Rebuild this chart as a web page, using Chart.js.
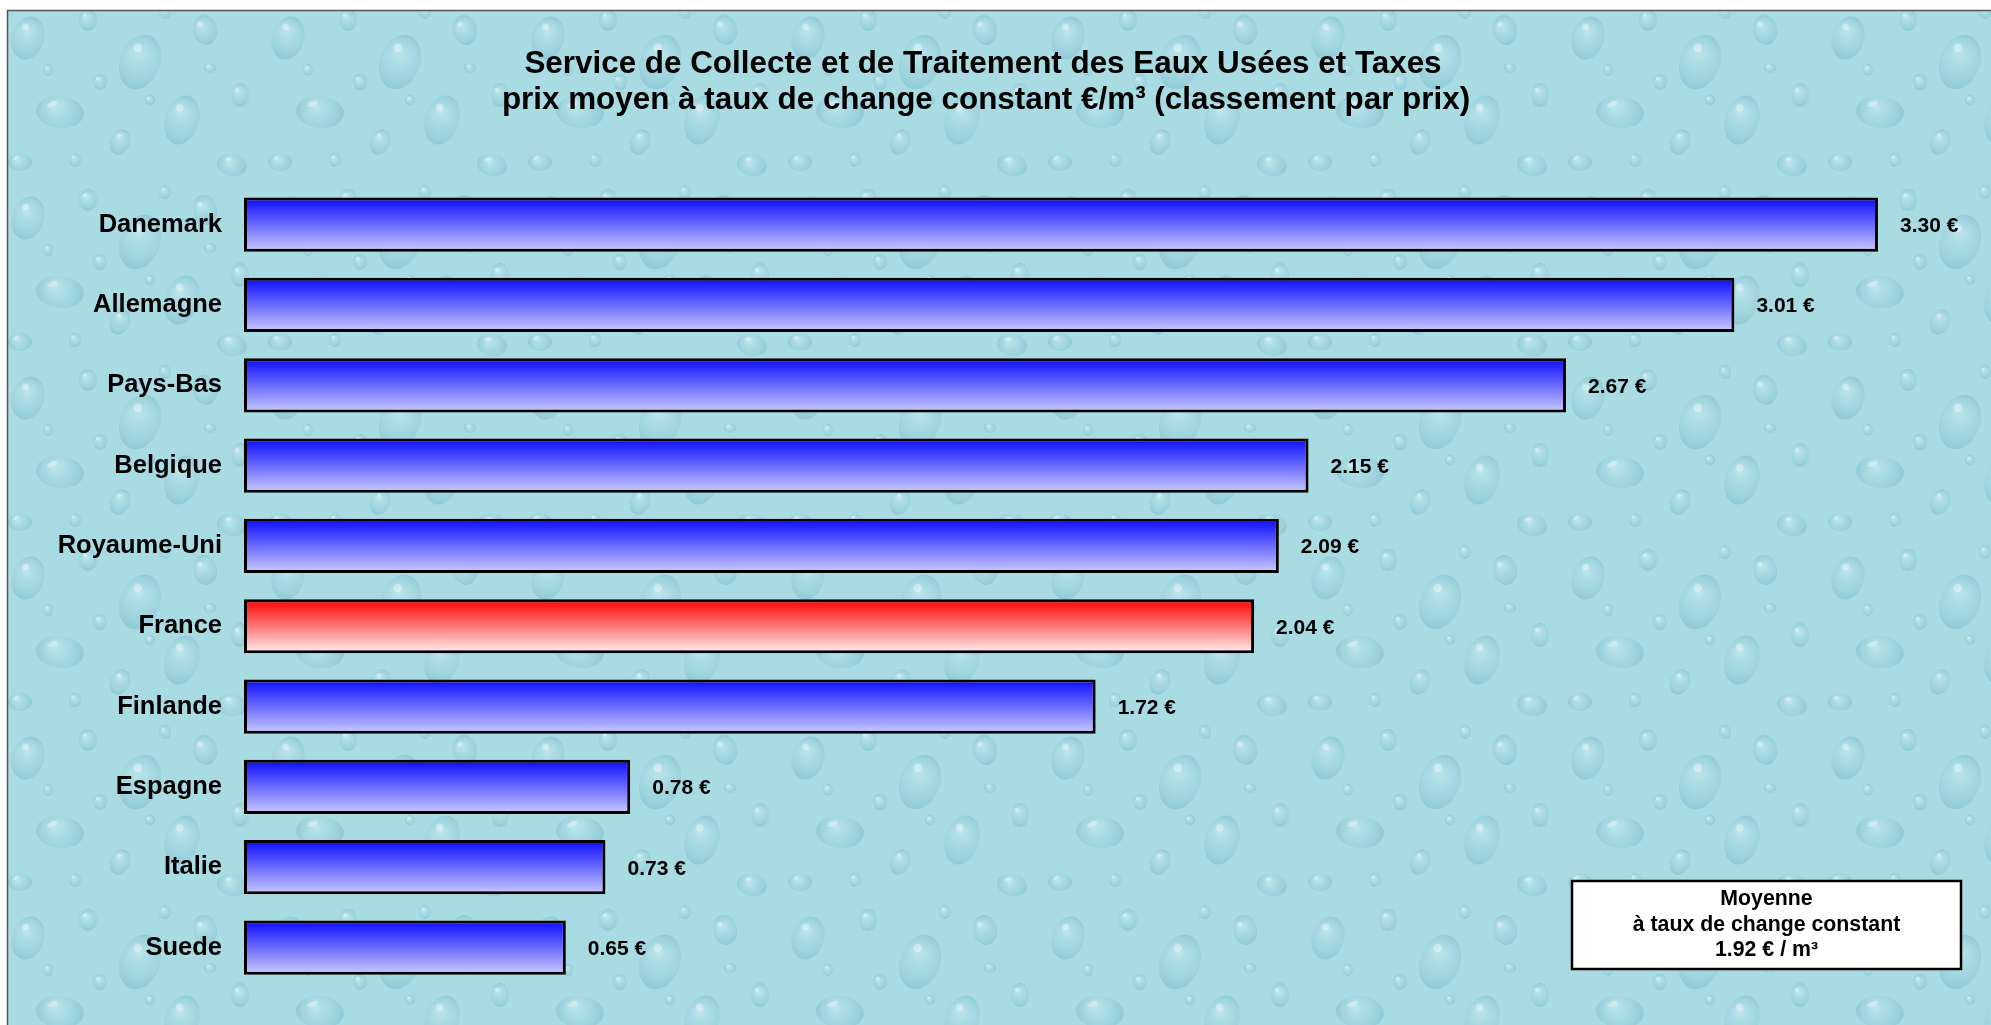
<!DOCTYPE html>
<html>
<head>
<meta charset="utf-8">
<script src="https://cdn.jsdelivr.net/npm/chart.js@4.4.1/dist/chart.umd.min.js"></script>
<style>
  html, body { margin: 0; padding: 0; background: #fff; }
  #wrap { width: 1991px; height: 1025px; }
</style>
</head>
<body>
<div id="wrap"><canvas id="chart" width="1991" height="1025"></canvas></div>
<script>
const countries = ["Danemark", "Allemagne", "Pays-Bas", "Belgique", "Royaume-Uni", "France", "Finlande", "Espagne", "Italie", "Suede"];
const prices = [3.30, 3.01, 2.67, 2.15, 2.09, 2.04, 1.72, 0.78, 0.73, 0.65];
const highlight = "France";
const averagePrice = 1.92;
const titleLines = [
    "Service de Collecte et de Traitement des Eaux Usées et Taxes",
    "prix moyen à taux de change constant €/m³ (classement par prix)"
];
const boxLines = ["Moyenne", "à taux de change constant", averagePrice.toFixed(2) + " € / m³"];

const FONT = "'Liberation Sans', Arial, sans-serif";

// hand placed drops for the water texture tile: x, y, rx, ry, tilt
const drops = [
    [28, 38, 16, 22, 0.3], [88, 20, 9, 11, 0], [140, 62, 20, 28, 0.35], [205, 30, 12, 15, -0.2],
    [60, 112, 24, 16, 0.1], [120, 142, 10, 13, 0.4], [182, 120, 17, 25, 0.3], [240, 95, 9, 12, 0],
    [20, 162, 12, 9, 0], [232, 165, 15, 11, 0.2], [100, 82, 7, 8, 0], [165, 12, 6, 7, 0],
    [48, 70, 5, 6, 0], [210, 68, 6, 5, 0], [75, 160, 6, 7, 0], [150, 100, 5, 5, 0]
];

function makeTexture(ctx) {
    const tile = document.createElement("canvas");
    tile.width = 260; tile.height = 180;
    const t = tile.getContext("2d");
    t.fillStyle = "#a9dbe3";
    t.fillRect(0, 0, 260, 180);
    drops.forEach(([x, y, rx, ry, a]) => {
        t.save();
        t.translate(x, y);
        t.rotate(a);
        const r = Math.max(rx, ry);
        const g = t.createRadialGradient(-rx * 0.25, -ry * 0.35, 1, 0, 0, r);
        g.addColorStop(0, "rgba(215,243,247,0.45)");
        g.addColorStop(0.65, "rgba(140,200,212,0.30)");
        g.addColorStop(1, "rgba(95,170,188,0.35)");
        t.fillStyle = g;
        t.beginPath();
        t.ellipse(0, 0, rx, ry, 0, 0, Math.PI * 2);
        t.fill();
        t.fillStyle = "rgba(255,255,255,0.35)";
        t.beginPath();
        t.ellipse(-rx * 0.35, -ry * 0.45, rx * 0.22, ry * 0.15, -0.5, 0, Math.PI * 2);
        t.fill();
        t.restore();
    });
    return ctx.createPattern(tile, "repeat");
}

const backdrop = {
    id: "backdrop",
    beforeDraw(chart) {
        const ctx = chart.ctx;
        ctx.save();
        ctx.fillStyle = "#fff";
        ctx.fillRect(0, 0, chart.width, chart.height);
        ctx.fillStyle = makeTexture(ctx);
        ctx.fillRect(7, 10, chart.width - 7, chart.height - 10);
        ctx.strokeStyle = "#555";
        ctx.lineWidth = 1.5;
        ctx.beginPath();
        ctx.moveTo(7.5, chart.height);
        ctx.lineTo(7.5, 10.5);
        ctx.lineTo(chart.width, 10.5);
        ctx.stroke();

        ctx.fillStyle = "#000";
        ctx.textAlign = "center";
        ctx.textBaseline = "alphabetic";
        ctx.font = "bold 31.4px " + FONT;
        ctx.fillText(titleLines[0], 983, 73);
        ctx.fillText(titleLines[1], 986, 109);
        ctx.restore();
    }
};

const valueLabels = {
    id: "valueLabels",
    afterDatasetsDraw(chart) {
        const ctx = chart.ctx;
        const meta = chart.getDatasetMeta(0);
        ctx.save();
        ctx.fillStyle = "#000";
        ctx.font = "bold 21px " + FONT;
        ctx.textAlign = "left";
        ctx.textBaseline = "alphabetic";
        meta.data.forEach((bar, i) => {
            ctx.fillText(prices[i].toFixed(2) + " €", bar.x + 22, bar.y + 7.5);
        });

        // average box
        const bx = 1572, by = 881, bw = 389, bh = 88;
        ctx.fillStyle = "#fff";
        ctx.fillRect(bx, by, bw, bh);
        ctx.strokeStyle = "#000";
        ctx.lineWidth = 2.5;
        ctx.strokeRect(bx, by, bw, bh);
        ctx.fillStyle = "#000";
        ctx.textAlign = "center";
        ctx.font = "bold 21.3px " + FONT;
        [905, 931, 956].forEach((y, i) => ctx.fillText(boxLines[i], bx + bw / 2, y));
        ctx.restore();
    }
};

function barFill(context) {
    const chart = context.chart;
    const ys = chart.scales.y;
    const isRed = countries[context.dataIndex] === highlight;
    const top = isRed ? "#ff0000" : "#0a0aff";
    const bottom = isRed ? "#fff0f0" : "#ccccff";
    if (!ys || ys.top === undefined || !isFinite(ys.getPixelForValue(0))) return top;
    const yc = ys.getPixelForValue(context.dataIndex);
    const h = Math.abs(ys.getPixelForValue(1) - ys.getPixelForValue(0)) * 0.675;
    const g = chart.ctx.createLinearGradient(0, yc - h / 2, 0, yc + h / 2);
    g.addColorStop(0, top);
    g.addColorStop(1, bottom);
    return g;
}

new Chart(document.getElementById("chart"), {
    type: "bar",
    data: {
        labels: countries,
        datasets: [{
            data: prices,
            backgroundColor: barFill,
            borderColor: "#000",
            borderWidth: 3,
            borderSkipped: false,
            barPercentage: 0.675,
            categoryPercentage: 1
        }]
    },
    options: {
        indexAxis: "y",
        responsive: false,
        animation: false,
        layout: { padding: { top: 184.5, bottom: 20, left: 0, right: 14 } },
        plugins: {
            legend: { display: false },
            title: { display: false },
            tooltip: { enabled: false }
        },
        scales: {
            x: { display: false, min: 0, max: 3.5 },
            y: {
                grid: { display: false, drawTicks: false },
                border: { display: false },
                ticks: {
                    color: "#000",
                    padding: 22,
                    font: { family: FONT, size: 25.5, weight: "bold" }
                },
                afterFit(scale) { scale.width = 244; }
            }
        }
    },
    plugins: [backdrop, valueLabels]
});
</script>
</body>
</html>
